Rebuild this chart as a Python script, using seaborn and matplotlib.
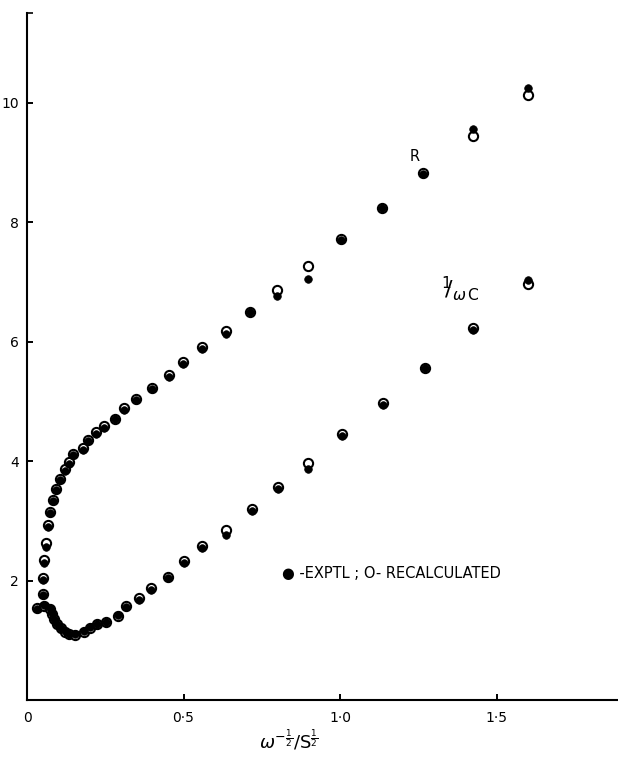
import matplotlib
matplotlib.use("Agg")
import matplotlib.pyplot as plt
import seaborn as sns
import pandas as pd

# ---- data ----
R_x = [0.050, 0.050, 0.054, 0.061, 0.068, 0.073, 0.082, 0.093, 0.105, 0.121, 0.135,
       0.148, 0.180, 0.196, 0.220, 0.247, 0.281, 0.310, 0.348, 0.398, 0.455, 0.497,
       0.560, 0.636, 0.712, 0.798, 0.898, 1.003, 1.133, 1.266, 1.424, 1.600]
R_exptl = [1.75, 2.01, 2.29, 2.56, 2.89, 3.13, 3.33, 3.51, 3.68, 3.84, 3.95,
           4.10, 4.19, 4.34, 4.45, 4.55, 4.70, 4.86, 5.02, 5.20, 5.41, 5.62,
           5.88, 6.12, 6.49, 6.77, 7.05, 7.70, 8.23, 8.80, 9.56, 10.24]
R_recalc = [1.78, 2.05, 2.34, 2.62, 2.93, 3.14, 3.35, 3.54, 3.70, 3.86, 3.98,
            4.11, 4.22, 4.36, 4.48, 4.58, 4.71, 4.88, 5.04, 5.23, 5.44, 5.65,
            5.91, 6.17, 6.50, 6.86, 7.27, 7.71, 8.24, 8.82, 9.44, 10.13]

C_x = [0.033, 0.054, 0.073, 0.081, 0.087, 0.097, 0.108, 0.121, 0.135, 0.153, 0.183,
       0.201, 0.225, 0.252, 0.292, 0.316, 0.358, 0.396, 0.451, 0.500, 0.560, 0.636,
       0.718, 0.801, 0.897, 1.007, 1.136, 1.270, 1.426, 1.600]
C_exptl = [1.53, 1.59, 1.54, 1.45, 1.36, 1.28, 1.21, 1.15, 1.11, 1.10, 1.15,
           1.22, 1.28, 1.31, 1.42, 1.55, 1.68, 1.84, 2.04, 2.30, 2.54, 2.77,
           3.17, 3.54, 3.87, 4.42, 4.94, 5.55, 6.20, 7.03]
C_recalc = [1.54, 1.58, 1.52, 1.44, 1.35, 1.27, 1.20, 1.14, 1.10, 1.09, 1.14,
            1.20, 1.27, 1.31, 1.41, 1.58, 1.70, 1.87, 2.06, 2.33, 2.57, 2.85,
            3.19, 3.56, 3.96, 4.45, 4.97, 5.56, 6.23, 6.97]

x_ticks = [0, 0.5, 1.0, 1.5]
x_tick_labels = ["0", "0\u00b75", "1\u00b70", "1\u00b75"]
y_ticks = [2, 4, 6, 8, 10]
y_tick_labels = ["2", "4", "6", "8", "10"]

recalc = pd.DataFrame({"x": R_x + C_x, "y": R_recalc + C_recalc})
exptl = pd.DataFrame({"x": R_x + C_x, "y": R_exptl + C_exptl})

sns.set_style("ticks")
plt.rcParams["font.family"] = ["DejaVu Sans"]
plt.rcParams["text.color"] = "black"
plt.rcParams["axes.labelcolor"] = "black"

fig = plt.figure(figsize=(6.18, 7.57), dpi=100)
ax = fig.add_axes([27 / 618, 1 - 700 / 757, (618 - 27) / 618, (700 - 13) / 757])

sns.scatterplot(data=recalc, x="x", y="y", ax=ax, marker="o", s=44,
                facecolor="white", edgecolor="black", linewidth=1.5, zorder=3)
sns.scatterplot(data=exptl, x="x", y="y", ax=ax, marker="o", s=30,
                color="black", edgecolor="black", linewidth=0.5, zorder=4)

ax.set_xlim(0, 1.888)
ax.set_ylim(0, 11.5)
ax.set_xticks(x_ticks)
ax.set_xticklabels(x_tick_labels)
ax.set_yticks(y_ticks)
ax.set_yticklabels(y_tick_labels)
ax.set_yticks([11.5], minor=True)
ax.tick_params(axis="both", direction="in", length=4, width=1.4, labelsize=10,
               colors="black")
ax.tick_params(axis="y", which="minor", direction="in", length=4, width=1.4)
ax.tick_params(axis="x", pad=8)
ax.tick_params(axis="y", pad=6)

for side in ["top", "right"]:
    ax.spines[side].set_visible(False)
for side in ["left", "bottom"]:
    ax.spines[side].set_linewidth(1.5)
    ax.spines[side].set_color("black")

ax.set_xlabel(r"$\omega^{-\frac{1}{2}}/\mathrm{S}^{\frac{1}{2}}$", fontsize=13,
              color="black")
ax.set_ylabel("")
ax.xaxis.set_label_coords(0.442, -0.04)

ax.text(1.24, 9.1, "R", fontsize=10.5, ha="center", va="center", color="black")
ax.text(1.385, 6.88, r"$^{1}\!\!/_{\omega\,\mathrm{C}}$", fontsize=16,
        ha="center", va="center", color="black")
ax.text(0.815, 2.11, "\u25cf -EXPTL ; O- RECALCULATED", fontsize=10.5,
        ha="left", va="center", color="black")

fig.savefig("out.png", dpi=100)
